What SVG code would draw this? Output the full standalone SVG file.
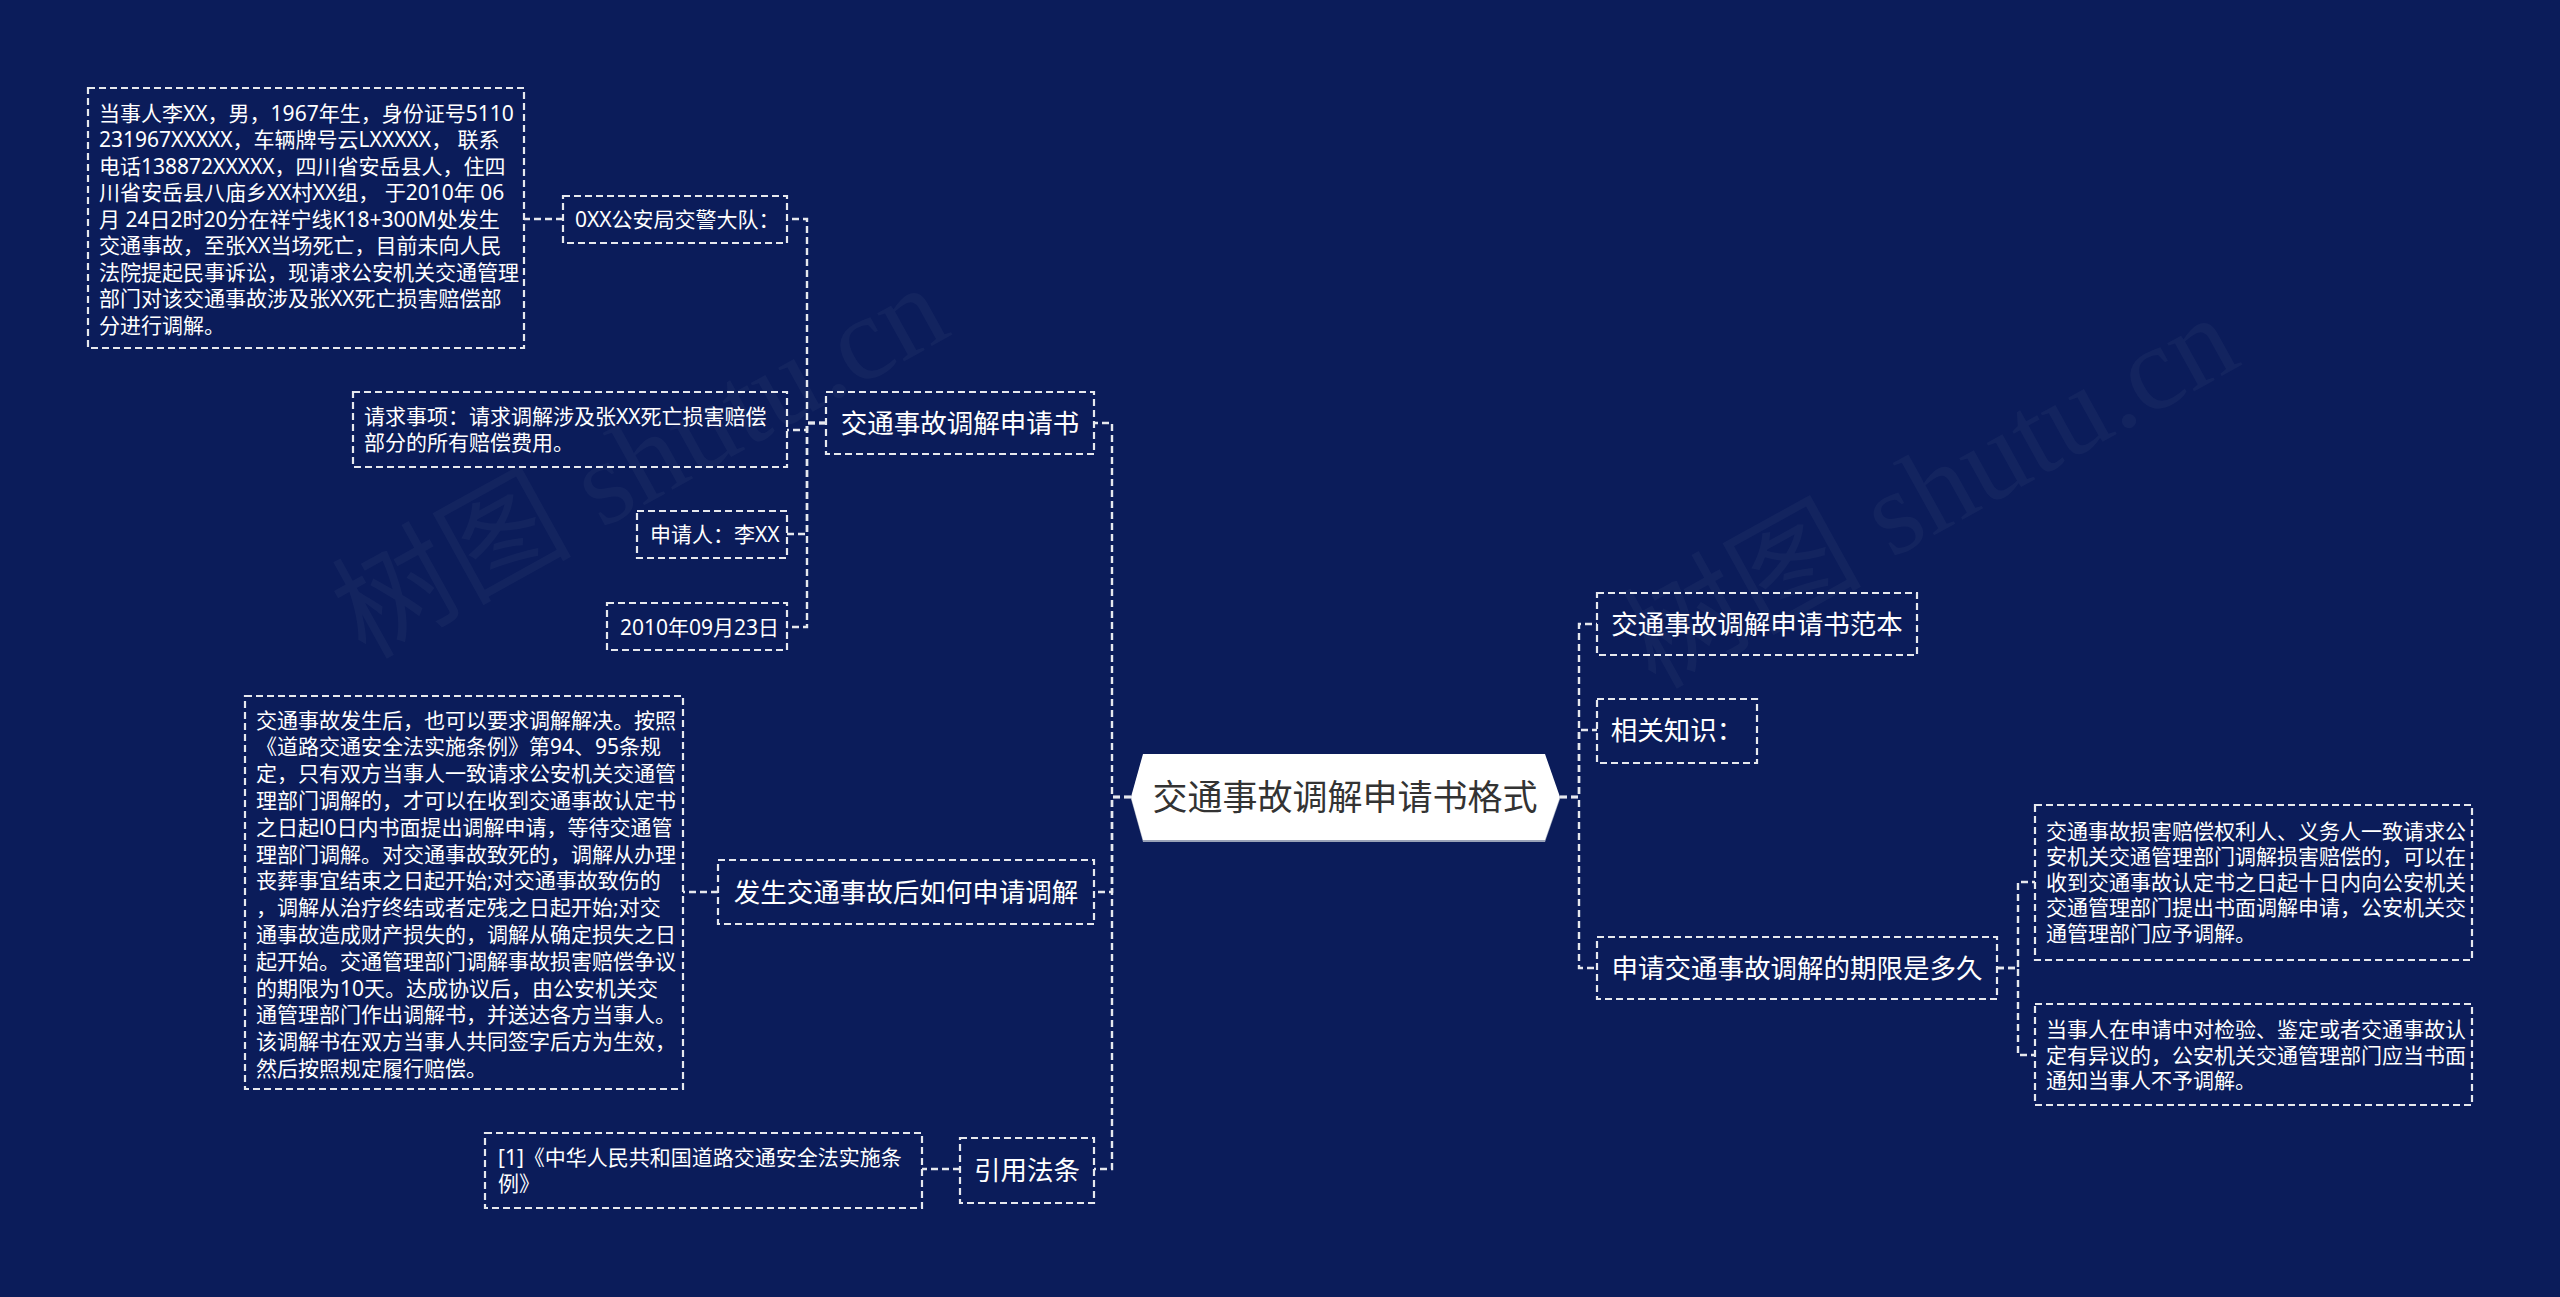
<svg xmlns="http://www.w3.org/2000/svg" width="2560" height="1297" viewBox="0 0 2560 1297">
<style>
.bg{fill:#0b1c5a}
.box{fill:none;stroke:#e6e8ee;stroke-width:2.2;stroke-dasharray:7 4}
.ln{fill:none;stroke:#e6e8ee;stroke-width:2.4;stroke-dasharray:7 4}
.t{font-family:"Noto Sans","Noto Sans CJK SC",sans-serif;fill:#ffffff}
.s{font-size:21px}
.m{font-size:26.5px}
.root{font-family:"Noto Sans","Noto Sans CJK SC",sans-serif;font-size:35px;fill:#333333}
.wm{font-family:"Liberation Serif","Noto Sans CJK SC",serif;font-size:120px;fill:#ffffff;fill-opacity:0.035}
</style>
<rect class="bg" x="0" y="0" width="2560" height="1297"/>
<g id="watermark">
<text class="wm" transform="translate(365,660) rotate(-29)">树图 shutu.cn</text>
<text class="wm" transform="translate(1655,690) rotate(-29)">树图 shutu.cn</text>
</g>
<g id="connectors">
<path class="ln" d="M1131 797 H1112 V423 H1094"/>
<path class="ln" d="M1131 797 H1112 V892 H1094"/>
<path class="ln" d="M1131 797 H1112 V1169 H1094"/>
<path class="ln" d="M826 423 H807 V219 H787"/>
<path class="ln" d="M826 423 H807 V430 H787"/>
<path class="ln" d="M826 423 H807 V534 H787"/>
<path class="ln" d="M826 423 H807 V627 H787"/>
<path class="ln" d="M563 219 H524"/>
<path class="ln" d="M718 892 H683"/>
<path class="ln" d="M960 1169 H922"/>
<path class="ln" d="M1560 797 H1579 V624 H1597"/>
<path class="ln" d="M1560 797 H1579 V730 H1597"/>
<path class="ln" d="M1560 797 H1579 V968 H1597"/>
<path class="ln" d="M1997 968 H2018 V882 H2035"/>
<path class="ln" d="M1997 968 H2018 V1055 H2035"/>
</g>
<g id="root">
<polygon points="1131,799 1143,756 1545,756 1560,799 1545,842 1143,842" fill="#9aa3b8"/>
<polygon points="1131,797 1143,754 1545,754 1560,797 1545,840 1143,840" fill="#ffffff"/>
<text class="root" x="1345" y="810" text-anchor="middle">交通事故调解申请书格式</text>
</g>
<g id="n-shenqingshu">
<rect class="box" x="826" y="392" width="268" height="62"/>
<text class="t m" x="960" y="433" text-anchor="middle">交通事故调解申请书</text>
</g>
<g id="n-0xx">
<rect class="box" x="563" y="196" width="224" height="47"/>
<text class="t s" x="575" y="227">0XX公安局交警大队：</text>
</g>
<g id="n-detail">
<rect class="box" x="88" y="88" width="436" height="260"/>
<text class="t s">
<tspan x="99" y="120.5">当事人李XX，男，1967年生，身份证号5110</tspan>
<tspan x="99" y="147">231967XXXXX，车辆牌号云LXXXXX， 联系</tspan>
<tspan x="99" y="173.5">电话138872XXXXX，四川省安岳县人，住四</tspan>
<tspan x="99" y="200">川省安岳县八庙乡XX村XX组， 于2010年 06</tspan>
<tspan x="99" y="226.5">月 24日2时20分在祥宁线K18+300M处发生</tspan>
<tspan x="99" y="253">交通事故，至张XX当场死亡，目前未向人民</tspan>
<tspan x="99" y="279.5">法院提起民事诉讼，现请求公安机关交通管理</tspan>
<tspan x="99" y="306">部门对该交通事故涉及张XX死亡损害赔偿部</tspan>
<tspan x="99" y="332.5">分进行调解。</tspan>
</text>
</g>
<g id="n-qingqiu">
<rect class="box" x="353" y="392" width="434" height="75"/>
<text class="t s">
<tspan x="364" y="424">请求事项：请求调解涉及张XX死亡损害赔偿</tspan>
<tspan x="364" y="450">部分的所有赔偿费用。</tspan>
</text>
</g>
<g id="n-shenqingren">
<rect class="box" x="637" y="511" width="150" height="47"/>
<text class="t s" x="650" y="542">申请人：李XX</text>
</g>
<g id="n-date">
<rect class="box" x="607" y="603" width="180" height="47"/>
<text class="t s" x="620" y="635">2010年09月23日</text>
</g>
<g id="n-ruhe">
<rect class="box" x="718" y="860" width="376" height="64"/>
<text class="t m" x="906" y="902" text-anchor="middle">发生交通事故后如何申请调解</text>
</g>
<g id="n-ruhe-detail">
<rect class="box" x="245" y="696" width="438" height="393"/>
<text class="t s">
<tspan x="256" y="727.5">交通事故发生后，也可以要求调解解决。按照</tspan>
<tspan x="256" y="754.3">《道路交通安全法实施条例》第94、95条规</tspan>
<tspan x="256" y="781.1">定，只有双方当事人一致请求公安机关交通管</tspan>
<tspan x="256" y="807.9">理部门调解的，才可以在收到交通事故认定书</tspan>
<tspan x="256" y="834.7">之日起l0日内书面提出调解申请，等待交通管</tspan>
<tspan x="256" y="861.5">理部门调解。对交通事故致死的，调解从办理</tspan>
<tspan x="256" y="888.3">丧葬事宜结束之日起开始;对交通事故致伤的</tspan>
<tspan x="256" y="915.1">，调解从治疗终结或者定残之日起开始;对交</tspan>
<tspan x="256" y="941.9">通事故造成财产损失的，调解从确定损失之日</tspan>
<tspan x="256" y="968.7">起开始。交通管理部门调解事故损害赔偿争议</tspan>
<tspan x="256" y="995.5">的期限为10天。达成协议后，由公安机关交</tspan>
<tspan x="256" y="1022.3">通管理部门作出调解书，并送达各方当事人。</tspan>
<tspan x="256" y="1049.1">该调解书在双方当事人共同签字后方为生效，</tspan>
<tspan x="256" y="1075.9">然后按照规定履行赔偿。</tspan>
</text>
</g>
<g id="n-fatiao">
<rect class="box" x="960" y="1138" width="134" height="65"/>
<text class="t m" x="1027" y="1180" text-anchor="middle">引用法条</text>
</g>
<g id="n-cite">
<rect class="box" x="485" y="1133" width="437" height="75"/>
<text class="t s">
<tspan x="498" y="1165">[1]《中华人民共和国道路交通安全法实施条</tspan>
<tspan x="498" y="1191">例》</tspan>
</text>
</g>
<g id="n-fanben">
<rect class="box" x="1597" y="593" width="320" height="62"/>
<text class="t m" x="1757" y="634" text-anchor="middle">交通事故调解申请书范本</text>
</g>
<g id="n-zhishi">
<rect class="box" x="1597" y="699" width="160" height="64"/>
<text class="t m" x="1677" y="740" text-anchor="middle">相关知识：</text>
</g>
<g id="n-qixian">
<rect class="box" x="1597" y="937" width="400" height="62"/>
<text class="t m" x="1797" y="978" text-anchor="middle">申请交通事故调解的期限是多久</text>
</g>
<g id="n-qixian-1">
<rect class="box" x="2035" y="805" width="437" height="155"/>
<text class="t s">
<tspan x="2046" y="838.5">交通事故损害赔偿权利人、义务人一致请求公</tspan>
<tspan x="2046" y="864">安机关交通管理部门调解损害赔偿的，可以在</tspan>
<tspan x="2046" y="889.5">收到交通事故认定书之日起十日内向公安机关</tspan>
<tspan x="2046" y="915">交通管理部门提出书面调解申请，公安机关交</tspan>
<tspan x="2046" y="940.5">通管理部门应予调解。</tspan>
</text>
</g>
<g id="n-qixian-2">
<rect class="box" x="2035" y="1004" width="437" height="101"/>
<text class="t s">
<tspan x="2046" y="1037">当事人在申请中对检验、鉴定或者交通事故认</tspan>
<tspan x="2046" y="1062.5">定有异议的，公安机关交通管理部门应当书面</tspan>
<tspan x="2046" y="1088">通知当事人不予调解。</tspan>
</text>
</g>
</svg>
